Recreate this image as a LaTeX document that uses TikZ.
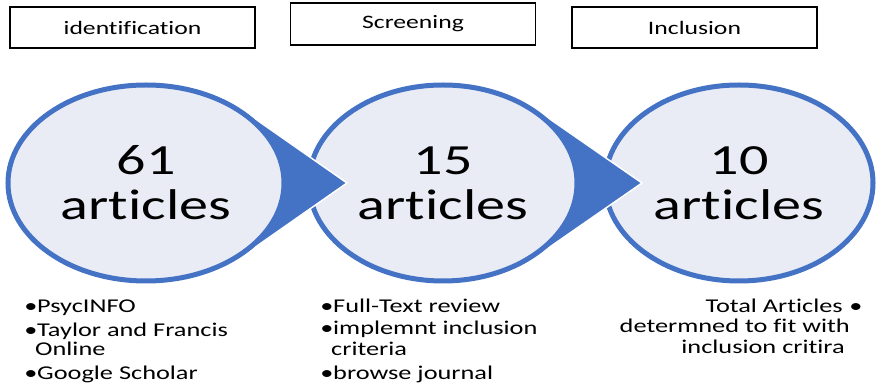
\documentclass[tikz,border=0pt]{standalone}
\usepackage{fontspec}
\setmainfont[FakeStretch=1.35,Ligatures={NoCommon,NoContextual}]{Carlito}
\usetikzlibrary{calc,shapes.geometric}

\definecolor{accent}{RGB}{68,114,196}
\definecolor{pale}{RGB}{233,236,245}

\newcommand\txtsize{\fontsize{19}{20}\selectfont}
\newcommand\listsize{\fontsize{19.5}{20}\selectfont}
\newcommand\bigsize{\fontsize{43}{45}\selectfont}

% blue pointer leaving a stage ellipse: tip at distance #3 right of #1,
% sides tangent to the ellipse of outer half-axes #2 x 100.5
\newcommand\tipwedge[3]{%
  \pgfmathsetmacro\wth{acos(#2/#3)}%
  \pgfmathsetmacro\wdx{#2*cos(\wth)}%
  \pgfmathsetmacro\wdy{100.5*sin(\wth)}%
  \filldraw[pointer] ($(#1)+(#3,0)$) -- ($(#1)+(\wdx,-\wdy)$) -- (#1)
    -- ($(#1)+(\wdx,\wdy)$) -- cycle;
}

\begin{document}
\begin{tikzpicture}[x=1pt,y=-1pt,
  stage/.style={draw=black, line width=1.4pt, minimum width=245,
    inner sep=0, font=\txtsize},
  count/.style={ellipse, draw=accent, fill=pale, line width=5pt,
    inner sep=0, align=center, font=\bigsize},
  pointer/.style={fill=accent, draw=white, line width=1.5pt},
  note/.style={anchor=base west, inner sep=0, font=\listsize},
  notr/.style={anchor=base east, inner sep=0, font=\listsize},
  dot/.style={anchor=base, inner sep=0, font=\listsize}]
\useasboundingbox (0,0) rectangle (876,387);

% stage headings
\node[stage, minimum height=41] (h1) at (132.5,27.5) {identification};
\node[stage, minimum height=42] (h2) at (413,24) {Screening};
\node[stage, minimum height=41] (h3) at (694.5,27.5) {Inclusion};

% ellipse centres
\coordinate (c1) at (146,183);
\coordinate (c2) at (443,183);
\coordinate (c3) at (739,183);

% drawn right to left so each pointer lies over the next ellipse
\node[count, minimum width=268, minimum height=196] (e3) at (c3) {10\\articles};
\tipwedge{c2}{136.5}{199}
\node[count, minimum width=268, minimum height=196] (e2) at (c2) {15\\articles};
\tipwedge{c1}{140.5}{201}
\node[count, minimum width=276, minimum height=196] (e1) at (c1) {61\\articles};

% sources
\node[dot] (d11) at (31,313) {•};
\node[note] (t11) at (37,313) {PsycINFO};
\node[dot] (d12) at (31,337) {•};
\node[note] (t12) at (37,337) {Taylor and Francis};
\node[note] (t12b) at (35,356) {Online};
\node[dot] (d13) at (31,380) {•};
\node[note] (t13) at (37,380) {Google Scholar};

% screening steps
\node[dot] (d21) at (327,313) {•};
\node[note] (t21) at (333,313) {Full-Text review};
\node[dot] (d22) at (327,335) {•};
\node[note] (t22) at (333,335) {implemnt inclusion};
\node[note] (t22b) at (331,356) {criteria};
\node[dot] (d23) at (327,380) {•};
\node[note] (t23) at (333,380) {browse journal};

% inclusion note
\node[notr] (t31) at (843,313) {Total Articles};
\node[dot] (d31) at (856,313) {•};
\node[notr] (t31b) at (850,333) {determned to fit with};
\node[notr] (t31c) at (845,354) {inclusion critira};
\end{tikzpicture}
\end{document}
